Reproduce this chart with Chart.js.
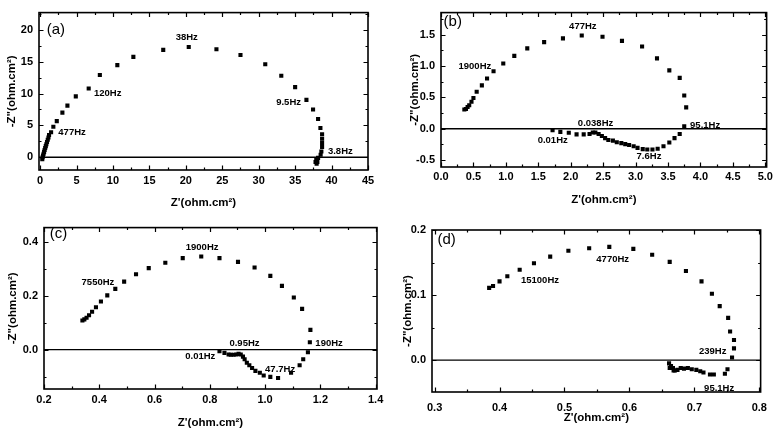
<!DOCTYPE html>
<html>
<head>
<meta charset="utf-8">
<script src="https://cdn.jsdelivr.net/npm/chart.js@4"></script>
<style>
  html, body { margin: 0; padding: 0; background: #fff; }
  #wrap { position: relative; width: 776px; height: 433px; background: #fff; }
  canvas { position: absolute; }
</style>
</head>
<body>
<div id="wrap">
  <canvas id="chartA" width="388" height="215" style="left:0;top:0"></canvas>
  <canvas id="chartB" width="388" height="215" style="left:388px;top:0"></canvas>
  <canvas id="chartC" width="388" height="218" style="left:0;top:215px"></canvas>
  <canvas id="chartD" width="388" height="218" style="left:388px;top:215px"></canvas>
</div>
<script>
// panel (a)
const zReA = [0.30, 0.35, 0.40, 0.48, 0.55, 0.62, 0.70, 0.78, 0.86, 0.95, 1.05, 1.15, 1.23, 1.51, 1.82, 2.29, 3.06, 3.75, 4.9, 6.67, 8.2, 10.6, 12.8, 16.9, 20.4, 24.2, 27.5, 30.9, 33.1, 35.0, 36.55, 37.46, 38.15, 38.47, 38.7, 38.7, 38.7, 38.7, 38.6, 38.5, 38.15, 37.9, 37.8, 38.05, 37.95];
const zImA = [-0.3, 0.0, 0.25, 0.55, 0.85, 1.15, 1.45, 1.75, 2.05, 2.4, 2.75, 3.1, 3.5, 3.93, 4.78, 5.67, 7.0, 8.1, 9.55, 10.8, 12.9, 14.45, 15.75, 16.85, 17.3, 16.95, 16.05, 14.6, 12.8, 11.0, 9.0, 7.5, 6.0, 4.6, 3.6, 2.9, 2.25, 1.6, 0.9, 0.4, -0.1, -0.4, -0.75, -0.75, -1.0];
const xTicksA = [0, 5, 10, 15, 20, 25, 30, 35, 40, 45];
const yTicksA = [0, 5, 10, 15, 20];
const notesA = [
  { text: '(a)', x: 0.9, y: 20.0, big: true },
  { text: '38Hz', x: 18.6, y: 18.75 },
  { text: '120Hz', x: 7.4, y: 10.1 },
  { text: '477Hz', x: 2.5, y: 3.9 },
  { text: '9.5Hz', x: 32.4, y: 8.65 },
  { text: '3.8Hz', x: 39.5, y: 0.9 }
];

// panel (b)
const zReB = [0.36, 0.385, 0.41, 0.435, 0.47, 0.50, 0.55, 0.63, 0.71, 0.81, 0.96, 1.13, 1.33, 1.59, 1.88, 2.17, 2.49, 2.79, 3.10, 3.33, 3.52, 3.68, 3.75, 3.78, 3.75, 3.68, 3.60, 3.52, 3.43, 3.34, 3.26, 3.18, 3.11, 3.03, 2.97, 2.90, 2.84, 2.78, 2.71, 2.65, 2.58, 2.53, 2.48, 2.43, 2.38, 2.34, 2.29, 2.20, 2.09, 1.97, 1.84, 1.72];
const zImB = [0.305, 0.315, 0.345, 0.375, 0.43, 0.49, 0.59, 0.69, 0.80, 0.915, 1.04, 1.16, 1.28, 1.38, 1.44, 1.485, 1.465, 1.40, 1.31, 1.12, 0.93, 0.81, 0.53, 0.34, 0.04, -0.085, -0.15, -0.22, -0.28, -0.32, -0.33, -0.33, -0.325, -0.305, -0.28, -0.26, -0.245, -0.23, -0.215, -0.19, -0.18, -0.15, -0.115, -0.085, -0.06, -0.06, -0.085, -0.09, -0.09, -0.065, -0.05, -0.025];
const xTicksB = [0, 0.5, 1, 1.5, 2, 2.5, 3, 3.5, 4, 4.5, 5];
const yTicksB = [-0.5, 0, 0.5, 1, 1.5];
const notesB = [
  { text: '(b)', x: 0.04, y: 1.70, big: true },
  { text: '477Hz', x: 1.975, y: 1.63 },
  { text: '1900Hz', x: 0.27, y: 1.0 },
  { text: '0.038Hz', x: 2.11, y: 0.09 },
  { text: '95.1Hz', x: 3.84, y: 0.06 },
  { text: '0.01Hz', x: 1.49, y: -0.19 },
  { text: '7.6Hz', x: 3.015, y: -0.44 }
];

// panel (c)
const zReC = [0.339, 0.346, 0.354, 0.363, 0.374, 0.388, 0.406, 0.429, 0.458, 0.490, 0.533, 0.579, 0.639, 0.702, 0.769, 0.835, 0.902, 0.962, 1.019, 1.061, 1.104, 1.134, 1.164, 1.162, 1.155, 1.138, 1.125, 1.094, 1.047, 1.019, 0.995, 0.981, 0.965, 0.953, 0.943, 0.934, 0.926, 0.920, 0.912, 0.904, 0.896, 0.886, 0.876, 0.868, 0.853, 0.835];
const zImC = [0.108, 0.112, 0.118, 0.127, 0.140, 0.157, 0.178, 0.201, 0.225, 0.252, 0.279, 0.302, 0.322, 0.339, 0.345, 0.339, 0.325, 0.304, 0.273, 0.236, 0.193, 0.151, 0.073, 0.027, -0.010, -0.036, -0.058, -0.086, -0.105, -0.101, -0.096, -0.086, -0.079, -0.068, -0.058, -0.049, -0.036, -0.026, -0.018, -0.016, -0.018, -0.019, -0.019, -0.018, -0.012, -0.006];
const xTicksC = [0.2, 0.4, 0.6, 0.8, 1.0, 1.2, 1.4];
const yTicksC = [0, 0.2, 0.4];
const notesC = [
  { text: '(c)', x: 0.221, y: 0.428, big: true },
  { text: '1900Hz', x: 0.713, y: 0.38 },
  { text: '7550Hz', x: 0.336, y: 0.249 },
  { text: '0.95Hz', x: 0.871, y: 0.0245 },
  { text: '190Hz', x: 1.182, y: 0.0245 },
  { text: '0.01Hz', x: 0.711, y: -0.0255 },
  { text: '47.7Hz', x: 1.0, y: -0.073 }
];

// panel (d)
const zReD = [0.384, 0.390, 0.400, 0.412, 0.431, 0.453, 0.478, 0.506, 0.538, 0.569, 0.606, 0.635, 0.662, 0.687, 0.711, 0.727, 0.739, 0.752, 0.755, 0.761, 0.761, 0.758, 0.751, 0.747, 0.730, 0.724, 0.714, 0.709, 0.703, 0.696, 0.690, 0.684, 0.679, 0.674, 0.670, 0.667, 0.664, 0.661, 0.662, 0.668];
const zImD = [0.111, 0.114, 0.121, 0.129, 0.139, 0.149, 0.159, 0.168, 0.172, 0.174, 0.171, 0.162, 0.151, 0.137, 0.121, 0.102, 0.083, 0.065, 0.044, 0.031, 0.018, 0.004, -0.014, -0.021, -0.022, -0.022, -0.019, -0.017, -0.015, -0.014, -0.012, -0.013, -0.012, -0.015, -0.016, -0.012, -0.009, -0.005, -0.012, -0.016];
const xTicksD = [0.3, 0.4, 0.5, 0.6, 0.7, 0.8];
const yTicksD = [0, 0.1, 0.2];
const notesD = [
  { text: '(d)', x: 0.3045, y: 0.185, big: true },
  { text: '4770Hz', x: 0.549, y: 0.155 },
  { text: '15100Hz', x: 0.433, y: 0.123 },
  { text: '239Hz', x: 0.707, y: 0.0128 },
  { text: '95.1Hz', x: 0.715, y: -0.0435 }
];

Chart.defaults.font.family = '"Liberation Sans", Arial, sans-serif';
Chart.defaults.color = '#000';

// midpoints between major ticks (plus one step outside each end)
function minorTicks(major, min, max) {
  const step = major[1] - major[0];
  const out = [];
  for (let i = -1; i < major.length; i++) {
    const v = (i < 0 ? major[0] - step / 2 : major[i] + step / 2);
    if (v > min && v < max) out.push(v);
  }
  return out;
}

const framePlugin = {
  id: 'frame',
  afterDatasetsDraw(chart, args, opts) {
    const { ctx, chartArea: a, scales: { x, y } } = chart;
    ctx.save();
    ctx.strokeStyle = '#000';
    ctx.lineWidth = 1.2;
    ctx.beginPath();
    const xs = [[opts.xTicks, 4.5], [minorTicks(opts.xTicks, x.min, x.max), 2.5]];
    xs.forEach(([vals, len]) => vals.forEach(v => {
      const px = Math.round(x.getPixelForValue(v)) + 0.5;
      ctx.moveTo(px, a.bottom); ctx.lineTo(px, a.bottom - len);
      ctx.moveTo(px, a.top); ctx.lineTo(px, a.top + len);
    }));
    const ys = [[opts.yTicks, 4.5], [minorTicks(opts.yTicks, y.min, y.max), 2.5]];
    ys.forEach(([vals, len]) => vals.forEach(v => {
      const py = Math.round(y.getPixelForValue(v)) + 0.5;
      ctx.moveTo(a.left, py); ctx.lineTo(a.left + len, py);
      ctx.moveTo(a.right, py); ctx.lineTo(a.right - len, py);
    }));
    ctx.stroke();
    ctx.lineWidth = 1.6;
    ctx.strokeRect(a.left, a.top, a.right - a.left, a.bottom - a.top);

    ctx.fillStyle = '#000';
    ctx.textBaseline = 'middle';
    ctx.textAlign = 'left';
    opts.notes.forEach(n => {
      ctx.font = n.big ? '15px "Liberation Sans", Arial' : 'bold 9.5px "Liberation Sans", Arial';
      ctx.fillText(n.text, x.getPixelForValue(n.x), y.getPixelForValue(n.y));
    });
    ctx.restore();
  }
};

const tickFont = { size: 11, weight: 'bold' };
const titleFont = { size: 11.5, weight: 'bold' };

function makePanel(id, p) {
  const fmt = v => p.digits ? v.toFixed(p.digits) : String(v);
  new Chart(document.getElementById(id), {
    type: 'scatter',
    data: {
      datasets: [
        {
          data: p.re.map((v, i) => ({ x: v, y: p.im[i] })),
          pointStyle: 'rect',
          pointRadius: 2.9,
          backgroundColor: '#000',
          borderWidth: 0
        },
        {
          type: 'line',
          data: [{ x: p.xMin, y: 0 }, { x: p.xMax, y: 0 }],
          borderColor: '#000',
          borderWidth: 1.4,
          pointRadius: 0
        }
      ]
    },
    options: {
      responsive: false,
      animation: false,
      events: [],
      layout: { padding: p.pad },
      plugins: {
        legend: { display: false },
        tooltip: { enabled: false },
        frame: { notes: p.notes, xTicks: p.xTicks, yTicks: p.yTicks }
      },
      scales: {
        x: {
          type: 'linear',
          min: p.xMin,
          max: p.xMax,
          afterBuildTicks: s => { s.ticks = p.xTicks.map(v => ({ value: v })); },
          afterFit: s => { s.height = p.xH; },
          grid: { display: false, drawTicks: false },
          border: { display: false },
          ticks: { padding: p.xPad, font: tickFont, autoSkip: false, maxRotation: 0, callback: fmt },
          title: { display: true, text: "Z'(ohm.cm²)", font: titleFont, padding: 0 }
        },
        y: {
          type: 'linear',
          min: p.yMin,
          max: p.yMax,
          afterBuildTicks: s => { s.ticks = p.yTicks.map(v => ({ value: v })); },
          afterFit: s => { s.width = p.yW; },
          grid: { display: false, drawTicks: false },
          border: { display: false },
          ticks: { padding: 6, font: tickFont, autoSkip: false, callback: fmt },
          title: { display: true, text: '-Z"(ohm.cm²)', font: titleFont, padding: 0 }
        }
      }
    },
    plugins: [framePlugin]
  });
}

makePanel('chartA', {
  re: zReA, im: zImA, xTicks: xTicksA, yTicks: yTicksA, notes: notesA, digits: 0,
  xMin: -0.15, xMax: 45, yMin: -2, yMax: 22.7,
  pad: { left: 5, top: 5, right: 20, bottom: 5 }, yW: 34, xH: 40, xPad: 4
});
makePanel('chartB', {
  re: zReB, im: zImB, xTicks: xTicksB, yTicks: yTicksB, notes: notesB, digits: 1,
  xMin: 0, xMax: 5.02, yMin: -0.61, yMax: 1.85,
  pad: { left: 20, top: 5, right: 8, bottom: 8 }, yW: 33, xH: 40, xPad: 3
});
makePanel('chartC', {
  re: zReC, im: zImC, xTicks: xTicksC, yTicks: yTicksC, notes: notesC, digits: 1,
  xMin: 0.2, xMax: 1.405, yMin: -0.146, yMax: 0.452,
  pad: { left: 6, top: 10, right: 11, bottom: 3 }, yW: 38, xH: 41, xPad: 4
});
makePanel('chartD', {
  re: zReD, im: zImD, xTicks: xTicksD, yTicks: yTicksD, notes: notesD, digits: 1,
  xMin: 0.296, xMax: 0.802, yMin: -0.049, yMax: 0.2,
  pad: { left: 13, top: 15, right: 8, bottom: 8 }, yW: 31, xH: 33, xPad: 9
});
</script>
</body>
</html>
